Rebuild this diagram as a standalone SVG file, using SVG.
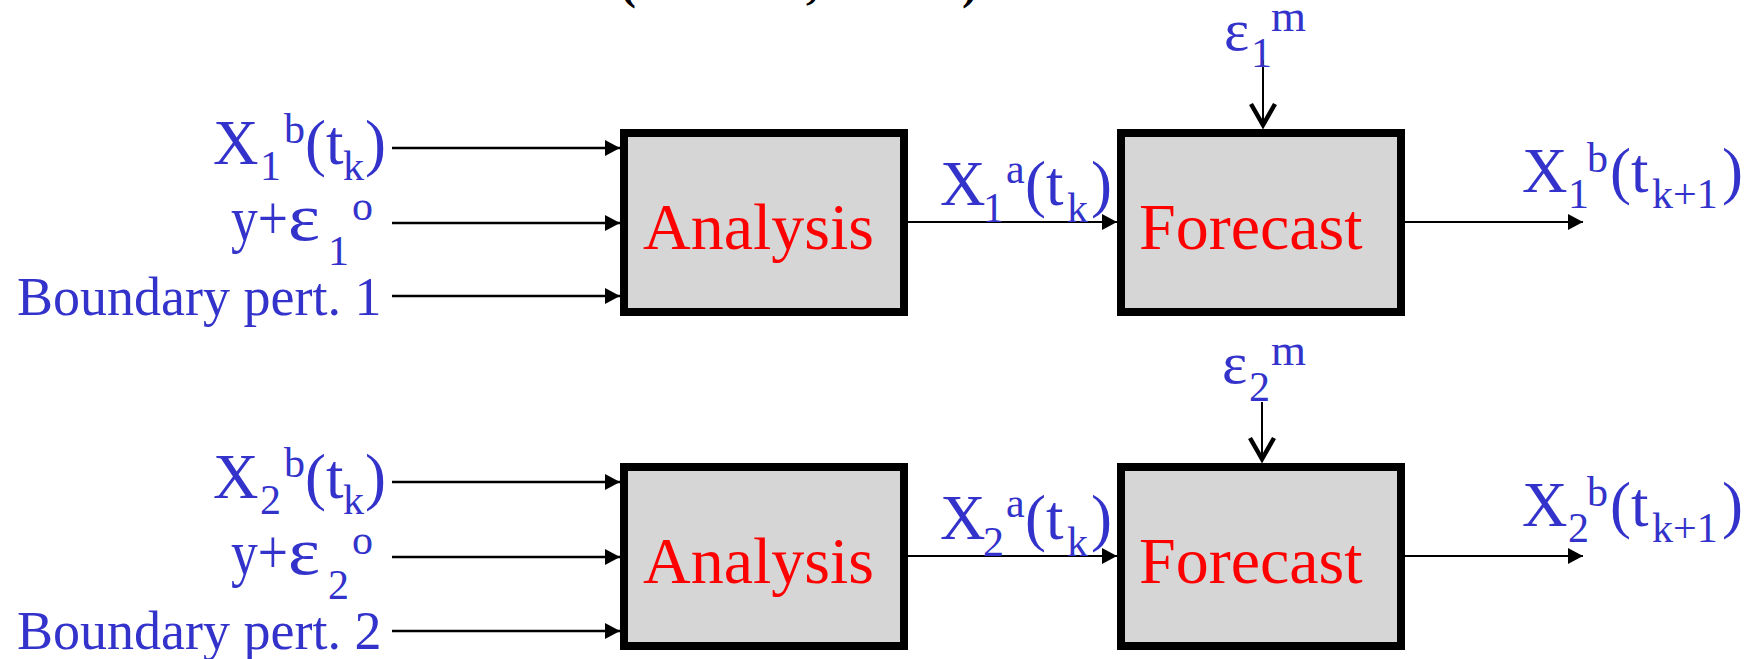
<svg xmlns="http://www.w3.org/2000/svg" width="1756" height="659" viewBox="0 0 1756 659">
<style>
  .box { fill: #d6d6d6; stroke: #000; stroke-width: 8; }
  .lbl { font-family: "Liberation Serif", "Times New Roman", serif; fill: #3333cc; font-size: 63px; }
  .s { font-size: 42px; }
  .eps { font-size: 68px; }
  .blk { font-family: "Liberation Serif", "Times New Roman", serif; fill: #ff0000; font-size: 66px; }
  .title { font-family: "Liberation Serif", "Times New Roman", serif; fill: #000; font-size: 48px; font-weight: bold; }
  .ln { stroke: #000; stroke-width: 2.5; fill: none; }
  .ln2 { stroke: #000; stroke-width: 2; fill: none; }
</style>
<defs>
  <marker id="tri" markerUnits="userSpaceOnUse" markerWidth="15" markerHeight="16" refX="15" refY="8" orient="auto" overflow="visible">
    <path d="M0,0 L15,8 L0,16 z" fill="#000"/>
  </marker>
  <marker id="chev" markerUnits="userSpaceOnUse" markerWidth="28" markerHeight="26" refX="14" refY="23" orient="0" overflow="visible">
    <path d="M2,2 L14,23 L26,2" fill="none" stroke="#000" stroke-width="4.5" stroke-linejoin="miter"/>
  </marker>
</defs>

<text class="title" y="-2"><tspan x="620">(</tspan><tspan x="806">,</tspan><tspan x="962">)</tspan></text>

<g id="connectors">
  <line class="ln" x1="392" y1="148" x2="620" y2="148" marker-end="url(#tri)"/>
  <line class="ln" x1="392" y1="223" x2="620" y2="223" marker-end="url(#tri)"/>
  <line class="ln" x1="392" y1="296" x2="620" y2="296" marker-end="url(#tri)"/>
  <line class="ln2" x1="908" y1="222" x2="1117" y2="222" marker-end="url(#tri)"/>
  <line class="ln2" x1="1405" y1="222" x2="1583" y2="222" marker-end="url(#tri)"/>
  <line class="ln2" x1="1263" y1="60" x2="1263" y2="125" marker-end="url(#chev)"/>

  <line class="ln" x1="392" y1="482" x2="620" y2="482" marker-end="url(#tri)"/>
  <line class="ln" x1="392" y1="557" x2="620" y2="557" marker-end="url(#tri)"/>
  <line class="ln" x1="392" y1="631" x2="620" y2="631" marker-end="url(#tri)"/>
  <line class="ln2" x1="908" y1="556" x2="1117" y2="556" marker-end="url(#tri)"/>
  <line class="ln2" x1="1405" y1="556" x2="1583" y2="556" marker-end="url(#tri)"/>
  <line class="ln2" x1="1262" y1="402" x2="1262" y2="459" marker-end="url(#chev)"/>
</g>

<g id="analysis1">
  <rect class="box" x="624" y="133" width="280" height="179"/>
  <text class="blk" x="643" y="249">Analysis</text>
</g>
<g id="forecast1">
  <rect class="box" x="1121" y="133" width="280" height="179"/>
  <text class="blk" x="1139" y="249">Forecast</text>
</g>
<g id="analysis2">
  <rect class="box" x="624" y="467" width="280" height="179"/>
  <text class="blk" x="643" y="583">Analysis</text>
</g>
<g id="forecast2">
  <rect class="box" x="1121" y="467" width="280" height="179"/>
  <text class="blk" x="1139" y="583">Forecast</text>
</g>

<g id="inputs1">
  <text class="lbl"><tspan x="213" y="164">X</tspan><tspan class="s" x="260" y="180">1</tspan><tspan class="s" x="284" y="143">b</tspan><tspan x="305" y="164">(t</tspan><tspan class="s" x="343" y="180">k</tspan><tspan x="365" y="164">)</tspan></text>
  <text class="lbl"><tspan x="231" y="240" textLength="57" lengthAdjust="spacingAndGlyphs">y+</tspan><tspan class="eps" x="288" y="240" textLength="32" lengthAdjust="spacingAndGlyphs">ε</tspan><tspan class="s" x="328" y="265">1</tspan><tspan class="s" x="352" y="220">o</tspan></text>
  <text class="lbl" x="17" y="315" style="font-size:54px">Boundary pert. 1</text>
</g>
<g id="inputs2">
  <text class="lbl"><tspan x="213" y="498">X</tspan><tspan class="s" x="260" y="514">2</tspan><tspan class="s" x="284" y="477">b</tspan><tspan x="305" y="498">(t</tspan><tspan class="s" x="343" y="514">k</tspan><tspan x="365" y="498">)</tspan></text>
  <text class="lbl"><tspan x="231" y="574" textLength="57" lengthAdjust="spacingAndGlyphs">y+</tspan><tspan class="eps" x="288" y="574" textLength="32" lengthAdjust="spacingAndGlyphs">ε</tspan><tspan class="s" x="328" y="599">2</tspan><tspan class="s" x="352" y="554">o</tspan></text>
  <text class="lbl" x="17" y="649" style="font-size:54px">Boundary pert. 2</text>
</g>

<g id="mid1">
  <text class="lbl"><tspan x="940" y="205">X</tspan><tspan class="s" x="983" y="222">1</tspan><tspan class="s" x="1006" y="183">a</tspan><tspan x="1025" y="205">(t</tspan><tspan class="s" x="1067" y="222">k</tspan><tspan x="1091" y="205">)</tspan></text>
</g>
<g id="mid2">
  <text class="lbl"><tspan x="940" y="539">X</tspan><tspan class="s" x="983" y="556">2</tspan><tspan class="s" x="1006" y="517">a</tspan><tspan x="1025" y="539">(t</tspan><tspan class="s" x="1067" y="556">k</tspan><tspan x="1091" y="539">)</tspan></text>
</g>

<g id="out1">
  <text class="lbl"><tspan x="1522" y="192">X</tspan><tspan class="s" x="1568" y="208">1</tspan><tspan class="s" x="1587" y="172">b</tspan><tspan x="1610" y="192">(t</tspan><tspan class="s" x="1652" y="208">k+1</tspan><tspan x="1722" y="192">)</tspan></text>
</g>
<g id="out2">
  <text class="lbl"><tspan x="1522" y="526">X</tspan><tspan class="s" x="1568" y="542">2</tspan><tspan class="s" x="1587" y="506">b</tspan><tspan x="1610" y="526">(t</tspan><tspan class="s" x="1652" y="542">k+1</tspan><tspan x="1722" y="526">)</tspan></text>
</g>

<g id="modelerr1">
  <text class="lbl"><tspan x="1224" y="50" style="font-size:60px">ε</tspan><tspan class="s" x="1251" y="67">1</tspan><tspan class="s" x="1271" y="31" style="font-size:45px">m</tspan></text>
</g>
<g id="modelerr2">
  <text class="lbl"><tspan x="1222" y="383" style="font-size:60px">ε</tspan><tspan class="s" x="1249" y="401">2</tspan><tspan class="s" x="1271" y="365" style="font-size:45px">m</tspan></text>
</g>
</svg>
